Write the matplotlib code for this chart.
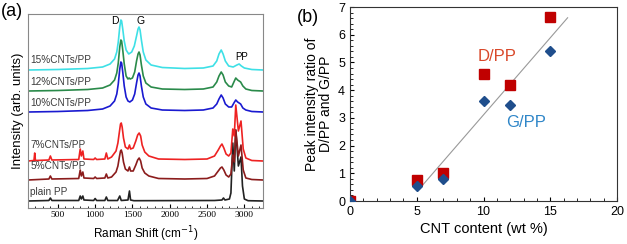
import numpy as np
import matplotlib.pyplot as plt
from matplotlib.ticker import MultipleLocator

# ---- panel (a): Raman spectra, (shift, intensity above own baseline) ----
plain_pp = [(100, 0), (380, 0.5), (400, 3), (420, 0.5), (780, 0.5), (800, 5), (815, 2), (835, 5),
            (850, 1), (980, 0.5), (1000, 2.5), (1020, 0.5), (1130, 0.5), (1150, 4), (1170, 0.5),
            (1300, 0.5), (1330, 5), (1350, 0.5), (1440, 1), (1460, 10), (1475, 1), (1520, 0.3),
            (2600, 0.5), (2700, 1), (2720, 3), (2740, 1), (2800, 2), (2820, 8), (2845, 58),
            (2865, 30), (2885, 71), (2920, 35), (2955, 44), (2975, 15), (3000, 2), (3050, 0.3),
            (3250, 0)]
cnt5 = [(100, 0), (380, 1), (400, 4), (420, 1), (780, 1.5), (800, 10), (815, 4), (835, 8), (850, 2),
        (980, 1.5), (1000, 3), (1020, 1.5), (1130, 2), (1150, 6), (1170, 2), (1220, 3), (1280, 8),
        (1305, 14), (1325, 23), (1340, 29), (1350, 30), (1362, 27), (1380, 18), (1405, 11), (1440, 9),
        (1460, 13), (1475, 9), (1510, 9), (1545, 15), (1570, 20), (1590, 22), (1610, 19), (1630, 12),
        (1665, 7), (1720, 4), (1850, 1.5), (2200, 1), (2500, 1.5), (2600, 4), (2650, 9), (2680, 12),
        (2700, 13), (2725, 10), (2755, 5), (2790, 3), (2820, 6), (2845, 25), (2865, 18), (2885, 50),
        (2920, 24), (2955, 35), (2985, 10), (3020, 2), (3100, 0.5), (3250, 0)]
cnt7 = [(100, 0), (180, 0.5), (190, 8), (200, 0.5), (380, 1), (400, 5), (420, 1), (780, 1.5), (800, 12),
        (815, 5), (835, 10), (850, 2), (980, 1.5), (1000, 3), (1020, 1.5), (1130, 2), (1150, 8),
        (1170, 2), (1220, 4), (1280, 10), (1305, 18), (1325, 29), (1340, 37), (1350, 38), (1362, 34),
        (1380, 23), (1405, 14), (1440, 12), (1460, 16), (1475, 12), (1510, 13), (1545, 20),
        (1570, 26), (1590, 28), (1610, 25), (1630, 16), (1665, 9), (1720, 5), (1850, 2), (2200, 1.5),
        (2500, 2), (2600, 5), (2650, 11), (2680, 15), (2700, 17), (2725, 13), (2755, 7), (2790, 5),
        (2820, 8), (2845, 32), (2865, 25), (2885, 56), (2920, 30), (2955, 40), (2985, 12), (3020, 3),
        (3100, 0.5), (3250, 0)]
cnt10 = [(100, 0), (500, 0.5), (900, 1.5), (1100, 3), (1200, 6), (1260, 11), (1290, 18), (1310, 28),
         (1330, 43), (1345, 50), (1355, 49), (1370, 40), (1390, 26), (1415, 15), (1440, 11),
         (1465, 10), (1500, 12), (1530, 18), (1555, 29), (1575, 37), (1588, 39), (1602, 36),
         (1620, 26), (1645, 15), (1680, 8), (1750, 4), (1900, 2), (2200, 1.5), (2450, 2), (2580, 4),
         (2630, 8), (2660, 13), (2690, 17), (2715, 14), (2745, 8), (2790, 5), (2830, 5), (2860, 9),
         (2885, 12), (2910, 10), (2950, 8), (2980, 4), (3020, 2), (3100, 0.5), (3250, 0)]
cnt12 = [(100, 0), (500, 0.5), (900, 1.5), (1100, 3), (1200, 6), (1260, 11), (1290, 18), (1310, 28),
         (1330, 44), (1345, 51), (1355, 50), (1370, 41), (1390, 27), (1415, 15), (1440, 12),
         (1455, 13), (1470, 12), (1500, 13), (1530, 19), (1555, 30), (1575, 37), (1588, 39),
         (1602, 36), (1620, 26), (1645, 15), (1680, 8), (1750, 4), (1900, 2), (2200, 1.5), (2450, 2),
         (2580, 4), (2630, 9), (2660, 15), (2690, 19), (2715, 16), (2745, 9), (2790, 5), (2830, 4),
         (2860, 9), (2885, 13), (2910, 11), (2950, 9), (2980, 5), (3020, 2), (3100, 0.5), (3250, 0)]
cnt15 = [(100, 0), (500, 0.5), (900, 1.5), (1100, 3), (1200, 6), (1260, 11), (1290, 18), (1310, 28),
         (1330, 43), (1345, 50), (1355, 49), (1370, 41), (1390, 29), (1415, 20), (1450, 16),
         (1490, 18), (1525, 24), (1555, 34), (1575, 41), (1588, 43), (1602, 40), (1620, 30),
         (1645, 18), (1680, 10), (1750, 5), (1900, 2.5), (2200, 1.5), (2450, 2), (2580, 4),
         (2630, 9), (2660, 16), (2690, 20), (2715, 16), (2745, 9), (2790, 4), (2850, 3), (2900, 5),
         (2930, 6), (2960, 4), (3000, 2), (3100, 0.5), (3250, 0)]

spectra = [plain_pp, cnt5, cnt7, cnt10, cnt12, cnt15]
names = ['plain PP', '5%CNTs/PP', '7%CNTs/PP', '10%CNTs/PP', '12%CNTs/PP', '15%CNTs/PP']
offsets = [7, 28, 47, 96, 117, 138]
label_y = [11, 37, 58, 100, 121, 143]
colors = ['#222222', '#8b1c1c', '#ee2222', '#1a1ad0', '#2a8a4a', '#3ee0e6']

# ---- panel (b): peak intensity ratios ----
cnt = [0, 5, 7, 10, 12, 15]
d_pp = [0, 0.75, 1.0, 4.6, 4.17, 6.65]
g_pp = [0, 0.55, 0.78, 3.62, 3.45, 5.4]

fig = plt.figure(figsize=(6.27, 2.44), dpi=100)

# (a)
ax1 = fig.add_axes([28/627, 36/244, 235/627, 194/244])
for spec, off, col in zip(spectra, offsets, colors):
    xs = np.array([p[0] for p in spec])
    ys = np.array([p[1] for p in spec])
    ax1.plot(xs, ys + off, color=col, lw=1.2)
for name, y in zip(names, label_y):
    ax1.text(130, y, name, fontsize=7.2, color='#3a3a3a', va='bottom', ha='left',
             family='Liberation Sans')
ax1.text(1268, 187, 'D', fontsize=7.5, ha='center', va='center', family='Liberation Sans')
ax1.text(1603, 187, 'G', fontsize=7.5, ha='center', va='center', family='Liberation Sans')
ax1.text(2970, 151, 'PP', fontsize=7, ha='center', va='center', family='Liberation Sans')
ax1.set_xlim(100, 3250)
ax1.set_ylim(0, 194)
ax1.set_yticks([])
ax1.set_xticks([500, 1000, 1500, 2000, 2500, 3000])
ax1.set_xticklabels(['500', '1000', '1500', '2000', '2500', '3000'], family='Liberation Serif')
ax1.xaxis.set_minor_locator(MultipleLocator(100))
ax1.tick_params(axis='x', which='both', direction='in', labelsize=6.8, pad=2)
ax1.tick_params(axis='x', which='major', length=3)
ax1.tick_params(axis='x', which='minor', length=1.5)
for s in ax1.spines.values():
    s.set_color('#888888')
    s.set_linewidth(0.8)
ax1.set_xlabel('Raman Shift (cm$^{-1}$)', fontsize=8.5, family='Liberation Sans', labelpad=4)
ax1.set_ylabel('Intensity (arb. units)', fontsize=9.5, family='Liberation Sans', labelpad=3)

# (b)
ax2 = fig.add_axes([350/627, 43/244, 267/627, 194/244])
ax2.plot(cnt, d_pp, 's', color='#c00000', ms=6.5, zorder=3)
ax2.plot(cnt, g_pp, 'D', color='#1f4e8c', ms=5.5, zorder=4)
fit = np.polyfit(cnt[1:] + cnt[1:], d_pp[1:] + g_pp[1:], 1)
xf = np.array([5.1, 16.3])
ax2.plot(xf, np.polyval(fit, xf) - 0.1, color='#999999', lw=0.8, zorder=2)
ax2.text(11.05, 5.2, 'D/PP', color='#d9482a', fontsize=12, ha='center', va='center',
         family='Liberation Sans')
ax2.text(13.2, 2.85, 'G/PP', color='#2f86c8', fontsize=12, ha='center', va='center',
         family='Liberation Sans')
ax2.set_xlim(0, 20)
ax2.set_ylim(0, 7)
ax2.set_xticks([0, 5, 10, 15, 20])
ax2.xaxis.set_minor_locator(MultipleLocator(1))
ax2.yaxis.set_minor_locator(MultipleLocator(0.2))
ax2.tick_params(which='both', direction='in', labelsize=9)
ax2.tick_params(which='major', length=3)
ax2.tick_params(which='minor', length=2)
for lab in ax2.get_xticklabels() + ax2.get_yticklabels():
    lab.set_family('Liberation Sans')
for s in ax2.spines.values():
    s.set_color('#333333')
ax2.set_xlabel('CNT content (wt %)', fontsize=10.5, family='Liberation Sans', labelpad=3)
ax2.set_ylabel('Peak intensity ratio of\nD/PP and G/PP', fontsize=10, family='Liberation Sans',
               linespacing=0.95, labelpad=4)

fig.text(12/627, 1 - 11/244, '(a)', fontsize=13, ha='center', va='center', family='Liberation Sans')
fig.text(308/627, 1 - 17/244, '(b)', fontsize=13, ha='center', va='center', family='Liberation Sans')

fig.savefig('out.png', dpi=100)
